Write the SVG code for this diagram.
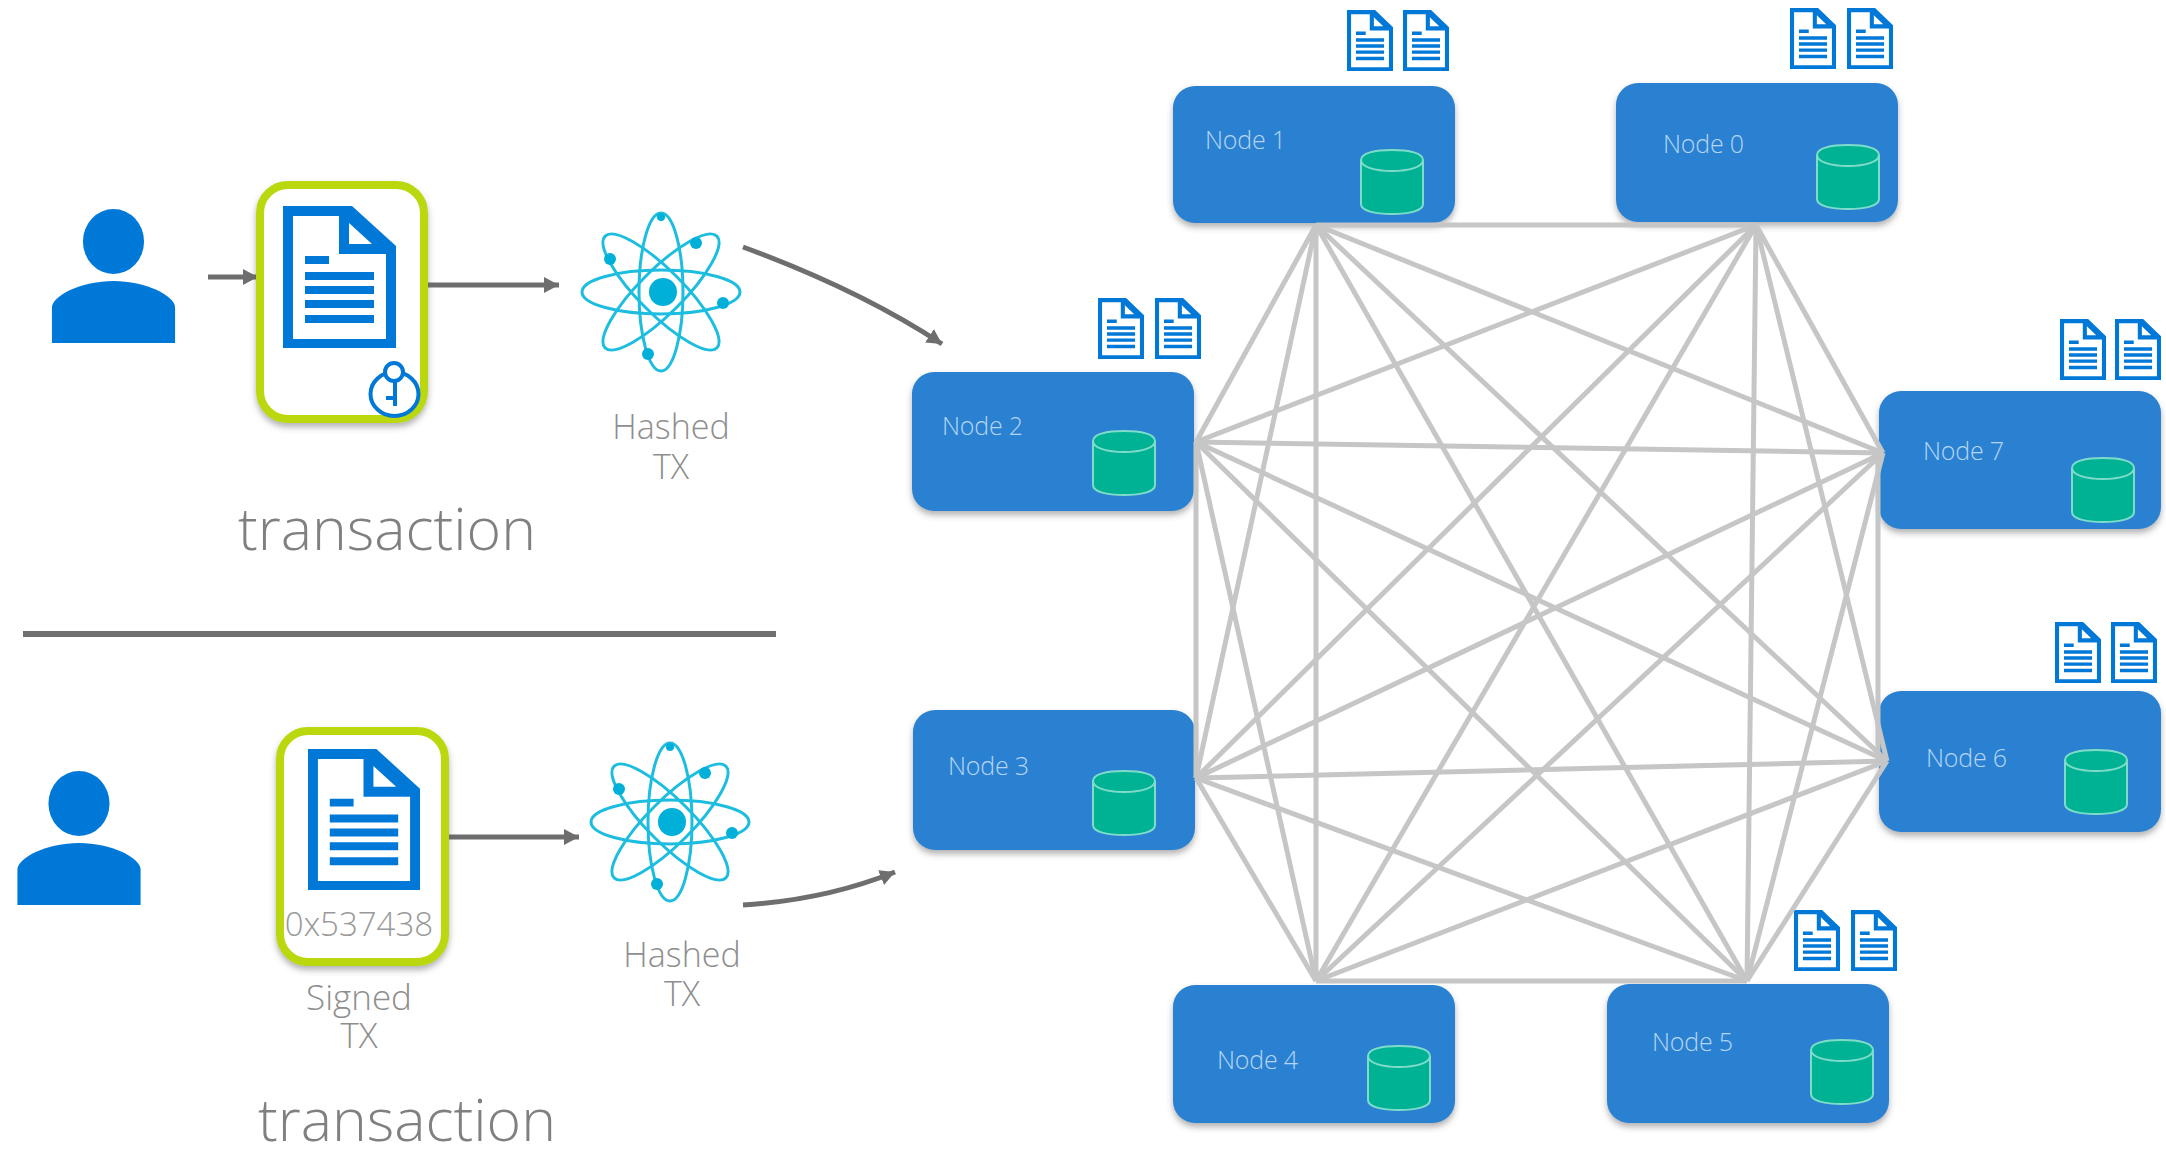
<svg xmlns="http://www.w3.org/2000/svg" width="2166" height="1149" viewBox="0 0 2166 1149">
<style>
text{font-family:"Open Sans","Noto Sans","Liberation Sans",sans-serif;font-weight:300}
.node{fill:#2981d1;filter:url(#sh)}
.nl{fill:#b5d5f3;font-size:25px;letter-spacing:-.2px}
.edge{stroke:#c6c6c6;stroke-width:5;fill:none}
.arrow{stroke:#6e6e6e;stroke-width:5;fill:none;marker-end:url(#ah)}
.big{fill:#808080;font-size:59px;text-anchor:middle}
.lab{fill:#8e8e8e;font-size:34px;text-anchor:middle}
.card{fill:#fff;stroke:#bad80a;stroke-width:8;filter:url(#sh)}
.orb{fill:none;stroke:#1dbde0;stroke-width:3}
.dot{fill:#00b0d8}
</style>
<defs>
<filter id="sh" x="-10%" y="-10%" width="120%" height="125%"><feDropShadow dx="0" dy="4" stdDeviation="3" flood-color="#555" flood-opacity=".45"/></filter>
<marker id="ah" markerUnits="userSpaceOnUse" markerWidth="16" markerHeight="18" refX="15" refY="9" orient="auto"><path d="M0 1 L15 9 L0 17 Z" fill="#6e6e6e"/></marker>
<symbol id="doc" viewBox="0 0 113 142" preserveAspectRatio="none">
<path fill="#0078d7" d="M0 0H69L113 40V142H0Z"/>
<path fill="#fff" d="M10 10H56V48H103V133H10ZM66 17V38H89Z"/>
<path fill="#0078d7" d="M22 50H46V58H22ZM22 66H91V74H22ZM22 80H91V88H22ZM22 94H91V102H22ZM22 109H91V117H22Z"/>
</symbol>
<symbol id="cyl" viewBox="0 0 64 66">
<path fill="#00b294" stroke="#7fdccb" stroke-width="2" d="M1 11C1 4 15 1 32 1S63 4 63 11V55C63 62 49 65 32 65S1 62 1 55Z"/>
<path fill="none" stroke="#7fdccb" stroke-width="2" d="M1 11C1 18 15 22 32 22S63 18 63 11"/>
</symbol>
<symbol id="person" viewBox="0 0 125 136">
<ellipse cx="62.500" cy="33" rx="31" ry="33" fill="#0078d7"/>
<path fill="#0078d7" d="M0 136V100C0 88 30 73 62.500 73S125 88 125 100V136Z"/>
</symbol>
<symbol id="atom" viewBox="-84 -84 168 168">
<ellipse class="orb" rx="79" ry="22"/>
<ellipse class="orb" rx="79" ry="22" transform="rotate(45)"/>
<ellipse class="orb" rx="79" ry="22" transform="rotate(90)"/>
<ellipse class="orb" rx="79" ry="22" transform="rotate(135)"/>
<circle cx="2" r="14" class="dot"/>
<circle cx="-51" cy="-33" r="6" class="dot"/>
<circle cx="35" cy="-49" r="6" class="dot"/>
<circle cx="62" cy="11" r="6" class="dot"/>
<circle cx="-13" cy="62" r="6" class="dot"/>
<circle cx="0" cy="-75" r="4" class="dot"/>
</symbol>
</defs>

<g id="node-1"><rect class="node" x="1173" y="86" width="282" height="137" rx="22"/><text class="nl" x="1205" y="149">Node 1</text><use href="#cyl" x="1360" y="149" width="64" height="66"/><use href="#doc" x="1347" y="10" width="46" height="61"/><use href="#doc" x="1403" y="10" width="46" height="61"/></g>
<g id="node-0"><rect class="node" x="1616" y="83" width="282" height="139" rx="22"/><text class="nl" x="1663" y="153">Node 0</text><use href="#cyl" x="1816" y="144" width="64" height="66"/><use href="#doc" x="1790" y="8" width="46" height="61"/><use href="#doc" x="1847" y="8" width="46" height="61"/></g>
<g id="node-2"><rect class="node" x="912" y="372" width="282" height="139" rx="22"/><text class="nl" x="942" y="435">Node 2</text><use href="#cyl" x="1092" y="430" width="64" height="66"/><use href="#doc" x="1098" y="298" width="46" height="61"/><use href="#doc" x="1155" y="298" width="46" height="61"/></g>
<g id="node-3"><rect class="node" x="913" y="710" width="282" height="140" rx="22"/><text class="nl" x="948" y="775">Node 3</text><use href="#cyl" x="1092" y="770" width="64" height="66"/></g>
<g id="node-7"><rect class="node" x="1879" y="391" width="282" height="138" rx="22"/><text class="nl" x="1923" y="460">Node 7</text><use href="#cyl" x="2071" y="457" width="64" height="66"/><use href="#doc" x="2060" y="319" width="46" height="61"/><use href="#doc" x="2115" y="319" width="46" height="61"/></g>
<g id="node-6"><rect class="node" x="1879" y="691" width="282" height="141" rx="22"/><text class="nl" x="1926" y="767">Node 6</text><use href="#cyl" x="2064" y="749" width="64" height="66"/><use href="#doc" x="2055" y="622" width="46" height="61"/><use href="#doc" x="2111" y="622" width="46" height="61"/></g>
<g id="node-4"><rect class="node" x="1173" y="985" width="282" height="138" rx="22"/><text class="nl" x="1217" y="1069">Node 4</text><use href="#cyl" x="1367" y="1045" width="64" height="66"/></g>
<g id="node-5"><rect class="node" x="1607" y="984" width="282" height="139" rx="22"/><text class="nl" x="1652" y="1051">Node 5</text><use href="#cyl" x="1810" y="1039" width="64" height="66"/><use href="#doc" x="1794" y="910" width="46" height="61"/><use href="#doc" x="1851" y="910" width="46" height="61"/></g>

<g id="connectors">
<path class="edge" d="M1316 225L1756 225"/>
<path class="edge" d="M1316 225L1196 442"/>
<path class="edge" d="M1316 225L1196 778"/>
<path class="edge" d="M1316 225L1883 453"/>
<path class="edge" d="M1316 225L1887 761"/>
<path class="edge" d="M1316 225L1316 981"/>
<path class="edge" d="M1316 225L1747 981"/>
<path class="edge" d="M1756 225L1196 442"/>
<path class="edge" d="M1756 225L1196 778"/>
<path class="edge" d="M1756 225L1883 453"/>
<path class="edge" d="M1756 225L1887 761"/>
<path class="edge" d="M1756 225L1316 981"/>
<path class="edge" d="M1756 225L1747 981"/>
<path class="edge" d="M1196 442L1196 778"/>
<path class="edge" d="M1196 442L1883 453"/>
<path class="edge" d="M1196 442L1887 761"/>
<path class="edge" d="M1196 442L1316 981"/>
<path class="edge" d="M1196 442L1747 981"/>
<path class="edge" d="M1196 778L1883 453"/>
<path class="edge" d="M1196 778L1887 761"/>
<path class="edge" d="M1196 778L1316 981"/>
<path class="edge" d="M1196 778L1747 981"/>
<path class="edge" d="M1878 453L1878 761"/>
<path class="edge" d="M1883 453L1316 981"/>
<path class="edge" d="M1883 453L1747 981"/>
<path class="edge" d="M1887 761L1316 981"/>
<path class="edge" d="M1887 761L1747 981"/>
<path class="edge" d="M1316 981L1747 981"/>
<path class="arrow" d="M208 277H258"/>
<path class="arrow" d="M425 285H559"/>
<path class="arrow" d="M743 247Q860 290 942 344"/>
<path class="arrow" d="M446 837H579"/>
<path class="arrow" d="M743 905Q825 900 895 872"/>
</g>

<g id="person-1"><use href="#person" x="51" y="209" width="125" height="134"/></g>
<g id="tx-1"><rect class="card" x="260" y="185" width="164" height="234" rx="28"/><use href="#doc" x="283" y="206" width="113" height="142"/>
<ellipse cx="394.500" cy="394" rx="24" ry="22" fill="#fff" stroke="#0078d7" stroke-width="4"/><path fill="none" stroke="#0078d7" stroke-width="4" d="M395 381V406M395 398H386"/><circle cx="394" cy="372" r="9" fill="#fff" stroke="#0078d7" stroke-width="4"/></g>
<g id="hash-1"><use href="#atom" x="577" y="208" width="168" height="168"/><text class="lab" x="671" y="439"><tspan x="671">Hashed</tspan><tspan x="671" dy="40">TX</tspan></text></g>
<text class="big" x="387" y="550">transaction</text>
<path id="divider" d="M23 634H776" stroke="#707070" stroke-width="6"/>
<g id="person-2"><use href="#person" x="16" y="771" width="126" height="134"/></g>
<g id="tx-2"><rect class="card" x="280" y="731" width="165" height="231" rx="28"/><use href="#doc" x="308" y="749" width="112" height="141"/><text x="359" y="936" font-size="33" fill="#999" text-anchor="middle">0x537438</text><text class="lab" style="font-size:35px" x="359" y="1010"><tspan x="359">Signed</tspan><tspan x="359" dy="38">TX</tspan></text></g>
<g id="hash-2"><use href="#atom" x="586" y="738" width="168" height="168"/><text class="lab" x="682" y="967"><tspan x="682">Hashed</tspan><tspan x="682" dy="39">TX</tspan></text></g>
<text class="big" x="407" y="1141">transaction</text>
</svg>
